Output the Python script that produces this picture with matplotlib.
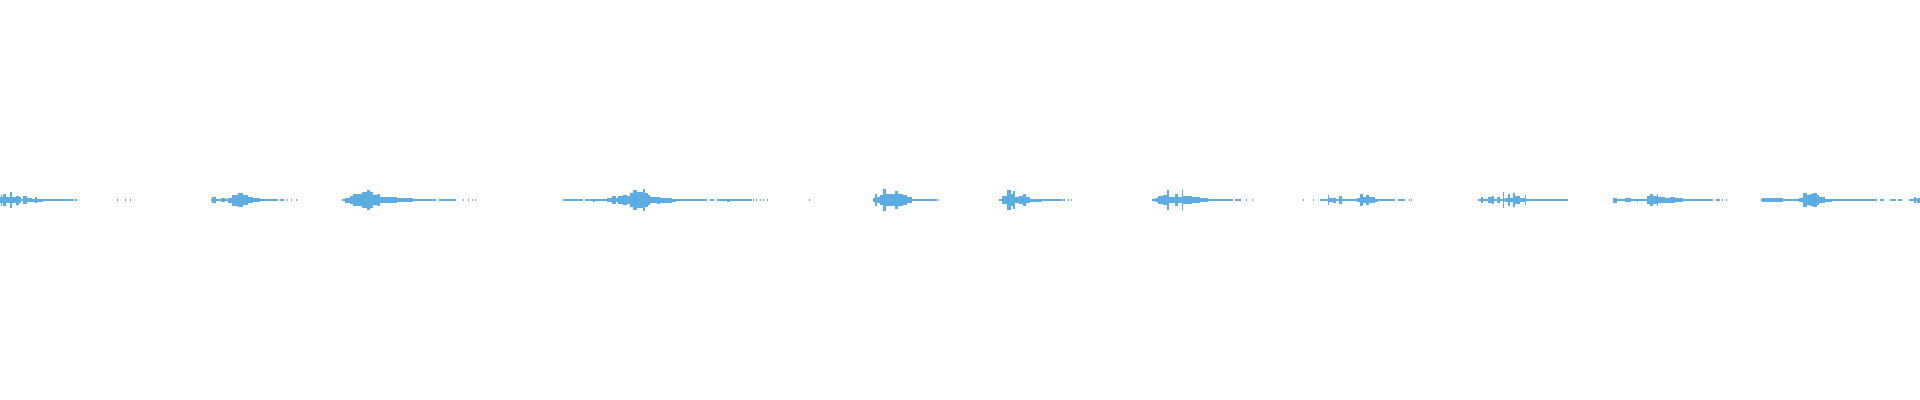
import numpy as np
import matplotlib
matplotlib.use("Agg")
import matplotlib.pyplot as plt

#################################################################
# data - peak envelope of the recording
# each entry: (time start, time end, peak amplitude)
# time in column units 0..1920, amplitude in same units
#################################################################

burst1 = [(0, 1, 3.3), (1, 2, 5.5), (2, 3, 3), (3, 6, 6), (6, 10, 3), (10, 12, 8),
          (12, 14, 3.3), (14, 16, 3), (16, 19, 4.5), (19, 21, 3), (21, 23, 1), (23, 27, 4),
          (27, 32, 2), (32, 35, 1.5), (35, 37, 2.7), (37, 43, 1.5), (43, 47, 1),
          (47, 48, 1.3), (48, 58, 0.8)]
burst2 = [(212, 216, 3), (221, 225, 2), (228, 232, 2.5), (232, 238, 5.5), (238, 243, 6.7),
          (243, 248, 5), (248, 253, 3), (253, 260, 2)]
burst3 = [(345, 350, 2.5), (350, 353, 4), (353, 357, 6), (357, 362, 6), (362, 367, 8),
          (367, 370, 10), (370, 373, 8), (373, 377, 5), (377, 380, 6), (380, 387, 3),
          (387, 397, 3), (397, 407, 2), (407, 413, 2), (413, 418, 1), (418, 430, 1.3)]
burst4 = [(572, 574, 1), (588, 589, 1.3), (593, 595, 1.5), (607, 612, 2), (612, 616, 4),
          (616, 618, 2), (618, 623, 4), (623, 627, 5), (627, 630, 4), (630, 633, 7),
          (633, 637, 10), (637, 643, 8), (643, 645, 11), (645, 648, 7), (648, 650, 5),
          (650, 657, 3), (657, 660, 3.5), (660, 672, 2.5), (672, 676, 1.5), (676, 683, 1),
          (727, 730, 1.5)]
burst5 = [(873, 875, 2), (875, 877, 6), (877, 880, 3), (880, 883, 5), (883, 886, 11),
          (886, 889, 6), (889, 895, 6), (895, 898, 9), (898, 903, 6), (903, 907, 5),
          (907, 912, 3), (912, 922, 1.3)]
burst6 = [(999, 1002, 1), (1002, 1007, 4), (1007, 1011, 10), (1011, 1013, 6), (1013, 1015, 9),
          (1015, 1019, 3), (1019, 1023, 4), (1023, 1026, 6), (1026, 1030, 3), (1030, 1042, 1.5)]
burst7 = [(1155, 1158, 2), (1158, 1163, 4), (1163, 1167, 5), (1167, 1169, 10), (1169, 1175, 3),
          (1175, 1178, 6), (1178, 1182, 3), (1182, 1183, 11), (1183, 1192, 4), (1192, 1200, 3),
          (1200, 1208, 2), (1218, 1219, 1)]
burst8 = [(1328, 1329, 5), (1329, 1333, 2), (1333, 1336, 2.5), (1339, 1342, 4), (1357, 1360, 2),
          (1360, 1363, 6), (1363, 1366, 3), (1366, 1369, 5), (1369, 1375, 3), (1375, 1378, 1.5)]
burst9 = [(1481, 1483, 3), (1488, 1492, 3), (1492, 1494, 4), (1497, 1500, 3), (1503, 1504, 8),
          (1505, 1508, 2), (1508, 1510, 6), (1510, 1513, 2), (1513, 1515, 7), (1515, 1520, 4),
          (1520, 1525, 2), (1525, 1526, 5), (1526, 1540, 1.3)]
burst10 = [(1613, 1617, 2.5), (1625, 1631, 2), (1637, 1638, 1.5), (1647, 1650, 4), (1650, 1653, 6),
           (1653, 1657, 4), (1657, 1658, 6), (1658, 1665, 3), (1665, 1670, 2.5), (1670, 1675, 3),
           (1675, 1683, 2), (1683, 1700, 1)]
burst11 = [(1762, 1783, 2), (1799, 1803, 2), (1803, 1807, 7), (1807, 1810, 5), (1810, 1813, 6),
           (1813, 1817, 7), (1817, 1819, 5), (1819, 1825, 3), (1825, 1832, 1.5), (1832, 1845, 1.3),
           (1914, 1916, 3), (1917, 1920, 2.5)]

# near-silent stretches (only the baseline shows) and stray blips
quiet = [(58, 72), (72, 74), (75, 77), (117, 118), (125, 126), (130, 131),
         (211, 278), (280, 284), (287, 288), (291, 292), (296, 297),
         (342, 343), (343, 436), (439, 456), (463, 464), (468, 469), (472, 473), (475, 476),
         (563, 583), (585, 607), (683, 707), (710, 714), (717, 752),
         (753, 754), (756, 757), (760, 761), (763, 764), (767, 768),
         (809, 810), (922, 937), (938, 939),
         (1042, 1062), (1063, 1065), (1068, 1069), (1071, 1072),
         (1152, 1233), (1235, 1241), (1246, 1247), (1252, 1253),
         (1303, 1304), (1313, 1314), (1320, 1395), (1398, 1405), (1409, 1410), (1411, 1412),
         (1478, 1568),
         (1613, 1713), (1716, 1720), (1722, 1723), (1726, 1727),
         (1761, 1877), (1880, 1884), (1890, 1896), (1898, 1902), (1909, 1920)]

baseline_amp = 0.6
wave_color = "#5dade2"

#################################################################
# helper functions
#################################################################

def drawSegments(ax, segs, amp=None):
    """draw each (start, end, peak) block as a filled envelope around zero"""
    for s in segs:
        a = amp if amp is not None else s[2]
        ax.fill_between([s[0], s[1]], -a, a, color=wave_color, linewidth=0, antialiased=False)


#################################################################
# main
#################################################################

fig = plt.figure(figsize=(19.2, 4), dpi=100)
ax = fig.add_axes([0, 0, 1, 1])

drawSegments(ax, quiet, amp=baseline_amp)
for b in [burst1, burst2, burst3, burst4, burst5, burst6, burst7, burst8, burst9, burst10, burst11]:
    drawSegments(ax, b)

ax.set_xlim(0, 1920)
ax.set_ylim(-200, 200)
ax.axis("off")

plt.savefig("out.png", dpi=100, facecolor="white")
